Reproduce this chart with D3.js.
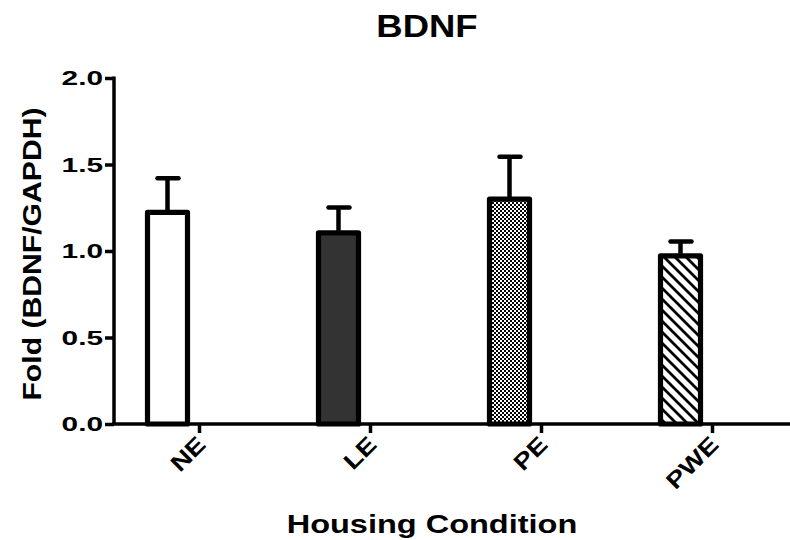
<!DOCTYPE html>
<html>
<head>
<meta charset="utf-8">
<script src="https://cdn.jsdelivr.net/npm/d3@7"></script>
<style>
  body { margin: 0; background: #fff; }
  text { font-family: "Liberation Sans", Arial, sans-serif; font-weight: bold; fill: #000; }
</style>
</head>
<body>
<div id="chart"></div>
<script>
// data
var categories = ["NE", "LE", "PE", "PWE"];
var means = [1.223, 1.105, 1.30, 0.972];
var upperErr = [1.42, 1.251, 1.545, 1.055];
var fills = ["white", "#333333", "url(#checker)", "url(#hatch)"];
var yTicks = [0, 0.5, 1.0, 1.5, 2.0];

var width = 790, height = 540;
var margin = { top: 78, left: 114, bottom: 116 };

var svg = d3.select("#chart")
  .append("svg")
  .attr("width", width)
  .attr("height", height);

// patterns
var defs = svg.append("defs");
var checker = defs.append("pattern")
  .attr("id", "checker")
  .attr("patternUnits", "userSpaceOnUse")
  .attr("width", 4)
  .attr("height", 4);
checker.append("rect").attr("width", 4).attr("height", 4).attr("fill", "#000");
checker.append("rect").attr("x", 0).attr("y", 0).attr("width", 2).attr("height", 2).attr("fill", "#fff");
checker.append("rect").attr("x", 2).attr("y", 2).attr("width", 2).attr("height", 2).attr("fill", "#fff");

var hatch = defs.append("pattern")
  .attr("id", "hatch")
  .attr("patternUnits", "userSpaceOnUse")
  .attr("width", 11)
  .attr("height", 11);
hatch.append("rect").attr("width", 11).attr("height", 11).attr("fill", "#fff");
hatch.append("path")
  .attr("d", "M-2,-2 L13,13 M-7,4 L7,18 M4,-7 L18,7")
  .attr("stroke", "#000")
  .attr("stroke-width", 2.8);

// scales
var y = d3.scaleLinear().domain([0, 2]).range([height - margin.bottom, margin.top]);
var x = d3.scalePoint().domain(categories).range([199, 712]);
var barShift = -31.5, barW = 40;

// stretch text horizontally to mimic the squashed original
function stretch(sel, k) {
  sel.each(function () {
    var len = this.getComputedTextLength();
    d3.select(this).attr("textLength", len * k).attr("lengthAdjust", "spacingAndGlyphs");
  });
}

// y axis
var yAxis = d3.axisLeft(y).tickValues(yTicks).tickFormat(d3.format(".1f")).tickSize(9).tickPadding(2);
var gy = svg.append("g")
  .attr("transform", "translate(" + margin.left + ",0)")
  .call(yAxis);
gy.select(".domain").attr("stroke", "#000").attr("stroke-width", 3.5)
  .attr("d", "M0," + (y(2) - 1.5) + "V" + y(0));
gy.selectAll(".tick line").attr("stroke", "#000").attr("stroke-width", 3.5);
gy.selectAll(".tick text")
  .style("font-size", "21px")
  .style("font-family", "'Liberation Sans', Arial, sans-serif")
  .style("font-weight", "bold")
  .attr("fill", "#000")
  .call(stretch, 1.42);

// bars
svg.append("g")
  .selectAll("rect")
  .data(categories)
  .enter()
  .append("rect")
  .attr("x", function (d) { return x(d) + barShift - barW / 2; })
  .attr("y", function (d, i) { return y(means[i]); })
  .attr("width", barW)
  .attr("height", function (d, i) { return y(0) - y(means[i]); })
  .attr("fill", function (d, i) { return fills[i]; })
  .attr("stroke", "#000")
  .attr("stroke-width", 5.2)
  .attr("stroke-linejoin", "round");

// error bars
var err = svg.append("g").attr("stroke", "#000").attr("stroke-width", 4.5);
err.selectAll("line.stem")
  .data(categories)
  .enter()
  .append("line")
  .attr("class", "stem")
  .attr("x1", function (d) { return x(d) + barShift; })
  .attr("x2", function (d) { return x(d) + barShift; })
  .attr("y1", function (d, i) { return y(means[i]) - 2; })
  .attr("y2", function (d, i) { return y(upperErr[i]); });
err.selectAll("line.cap")
  .data(categories)
  .enter()
  .append("line")
  .attr("class", "cap")
  .attr("stroke-linecap", "round")
  .attr("x1", function (d) { return x(d) + barShift - 10; })
  .attr("x2", function (d) { return x(d) + barShift + 11; })
  .attr("y1", function (d, i) { return y(upperErr[i]); })
  .attr("y2", function (d, i) { return y(upperErr[i]); });

// x axis
var xAxis = d3.axisBottom(x).tickSize(9).tickSizeOuter(0).tickFormat("");
var gx = svg.append("g")
  .attr("transform", "translate(0," + y(0) + ")")
  .call(xAxis);
gx.select(".domain").attr("stroke", "#000").attr("stroke-width", 3.5)
  .attr("d", "M" + (margin.left - 1.75) + ",0H" + width);
gx.selectAll(".tick line").attr("stroke", "#000").attr("stroke-width", 3.5);

// rotated category labels
svg.append("g")
  .selectAll("text")
  .data(categories)
  .enter()
  .append("text")
  .attr("transform", function (d) { return "translate(" + (x(d) + 8) + "," + (y(0) + 22) + ") rotate(-45)"; })
  .attr("text-anchor", "end")
  .style("font-size", "23px")
  .text(function (d) { return d; })
  .call(stretch, 1.2);

// title
svg.append("text")
  .attr("x", 427)
  .attr("y", 37)
  .attr("text-anchor", "middle")
  .style("font-size", "32px")
  .text("BDNF")
  .call(stretch, 1.14);

// y label
svg.append("text")
  .attr("transform", "translate(41,254) rotate(-90)")
  .attr("text-anchor", "middle")
  .style("font-size", "26px")
  .text("Fold (BDNF/GAPDH)")
  .call(stretch, 1.16);

// x label
svg.append("text")
  .attr("x", 432)
  .attr("y", 533)
  .attr("text-anchor", "middle")
  .style("font-size", "25px")
  .text("Housing Condition")
  .call(stretch, 1.3);
</script>
</body>
</html>
